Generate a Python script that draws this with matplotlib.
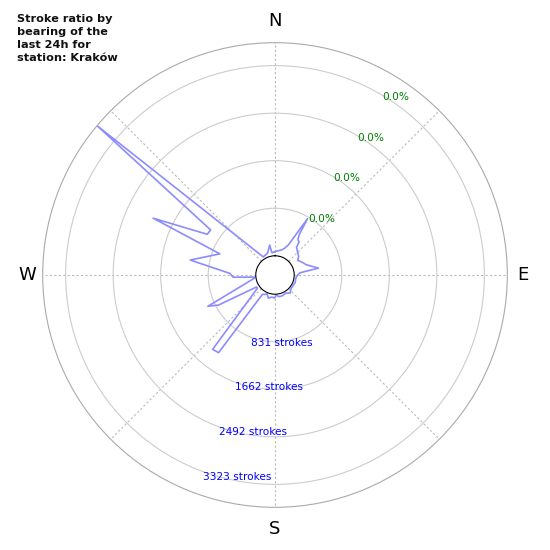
import numpy as np
import matplotlib
matplotlib.use("Agg")
import matplotlib.pyplot as plt

# bearings (deg) that have strokes, and stroke counts
bearings = [0, 15, 20, 24, 30, 31, 33, 36, 38, 45, 52, 57, 65, 72, 81, 85, 92,
            100, 110, 120, 130, 140, 150, 160, 169, 177, 181, 188, 196, 203,
            208, 213, 216, 220, 233, 237, 242, 245, 261, 264, 267, 272, 280,
            291, 295, 301, 305, 310, 327, 341, 350, 352]
counts = [72, 119, 163, 241, 800, 486, 399, 381, 276, 224, 189, 136, 189, 241,
          433, 101, 49, 31, 40, 31, 31, 75, 31, 49, 49, 19, 66, 54, 84, 23,
          49, 66, 1342, 1360, 49, 49, 783, 958, 31, 19, 399, 451, 1168,
          696, 2015, 1045, 1038, 3724, 40, 66, 196, 58]

ring_values = [831, 1662, 2492, 3323]
stroke_labels = ["831 strokes", "1662 strokes", "2492 strokes", "3323 strokes"]
pct_labels = ["0.0%", "0.0%", "0.0%", "0.0%"]
compass = ["N", "E", "S", "W"]
compass_deg = [0, 90, 180, 270]
title = "Stroke ratio by\nbearing of the\nlast 24h for\nstation: Kraków"
r_max = 3724

fig = plt.figure(figsize=(5.5, 5.5), dpi=100)
ax = fig.add_axes([0.0776, 0.0776, 0.8448, 0.8448], projection="polar")
ax.set_theta_zero_location("N")
ax.set_theta_direction(-1)

th = np.deg2rad(bearings + bearings[:1])
rr = counts + counts[:1]
ax.plot(th, rr, color="#8c8cff", lw=1.2)

ax.set_rlim(0, r_max)
ax.set_rorigin(-336)
ax.set_rticks(ring_values)
ax.set_yticklabels([])
ax.yaxis.grid(True, color="#cccccc", lw=0.8, ls="-")
ax.set_thetagrids(range(0, 360, 45), [""] * 8)
ax.xaxis.grid(True, color="#bbbbbb", lw=0.8, ls=(0, (2, 2)))
ax.spines["polar"].set_color("#aaaaaa")
ax.spines["polar"].set_linewidth(0.8)
ax.spines["inner"].set_color("black")
ax.spines["inner"].set_linewidth(0.8)

# compass letters, N/S a bit further out than E/W as in the original
for d, s in zip(compass_deg, compass):
    off = 4110 if d in (0, 180) else 4000
    ax.text(np.deg2rad(d), off, s, fontsize=13, ha="center", va="center",
            clip_on=False)

for v, s in zip(ring_values, stroke_labels):
    ax.text(np.deg2rad(199.5), v + 85, s, color="blue", fontsize=7.6,
            ha="left", va="center")
for v, s in zip(ring_values, pct_labels):
    ax.text(np.deg2rad(31), v - 30, s, color="green", fontsize=7.6,
            ha="left", va="center")

fig.text(0.031, 0.974, title, fontsize=8.1, fontweight="bold",
         ha="left", va="top", color="#111111", linespacing=1.35)

fig.savefig("out.png", dpi=100)
